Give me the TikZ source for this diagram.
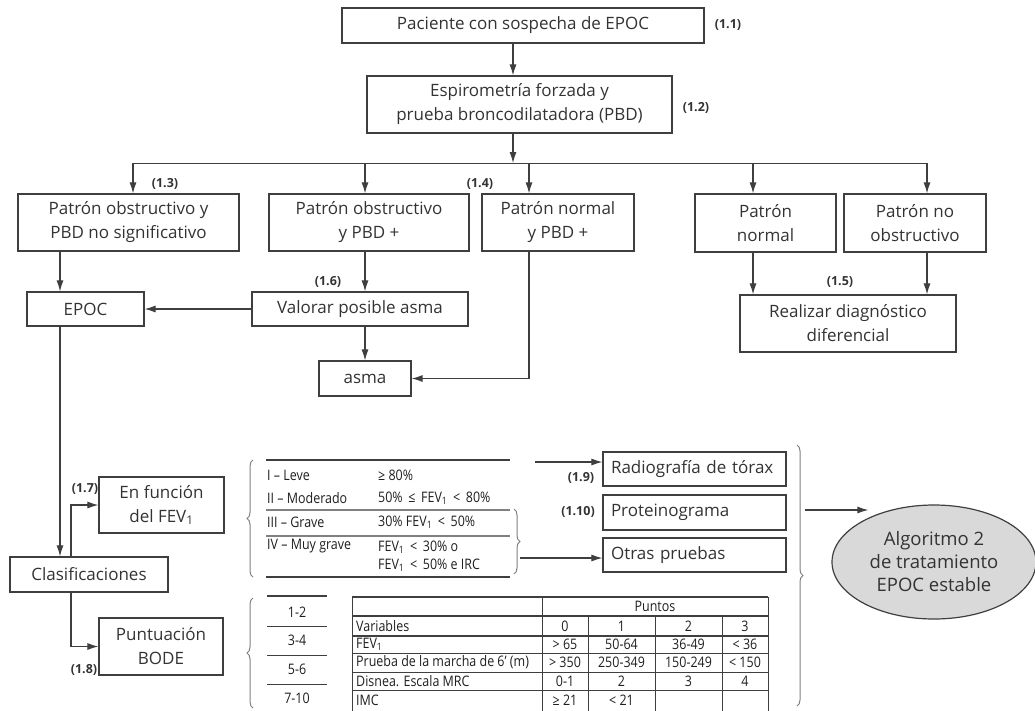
\documentclass[tikz,border=0pt]{standalone}
\usepackage{fontspec}
\setmainfont{Open Sans}
\newfontfamily\estrecha{Open Sans}[FakeStretch=0.86]
\usetikzlibrary{arrows.meta,shapes.geometric,decorations.pathreplacing}
\definecolor{linea}{HTML}{3F3F3F}
\definecolor{texto}{HTML}{333333}
\definecolor{oscuro}{HTML}{1F1F1F}
\definecolor{gris}{HTML}{D9D9D9}
\tikzset{
  caja/.style={draw=linea, line width=1.2pt, text=texto, align=center, inner sep=0pt,
    font=\fontsize{17}{24}\selectfont},
  prueba/.style={caja, align=left, inner xsep=8pt, text width=167pt},
  nota/.style={text=texto, inner sep=0pt, font=\fontsize{12.5}{14}\selectfont\bfseries},
  flecha/.style={draw=linea, line width=1.1pt, -{Latex[length=11pt,width=7pt]}},
  tabla/.style={text=oscuro, inner sep=0pt, font=\estrecha\fontsize{14.5}{16}\selectfont},
  llave/.style={draw=gray, line width=1pt, decorate, decoration={brace, amplitude=6pt}},
  raya/.style={draw=linea, line width=1pt}
}
\begin{document}
\begin{tikzpicture}[x=1pt, y=-1pt]
\useasboundingbox (0,0) rectangle (1035,710);

% cajas
\node[caja, minimum width=362pt, minimum height=35pt] (sospecha) at (523,25.5) {Paciente con sospecha de EPOC};
\node[caja, minimum width=305pt, minimum height=57pt] (espiro) at (519.5,104.5) {Espirometría forzada y\\prueba broncodilatadora (PBD)};
\node[caja, minimum width=221pt, minimum height=57pt] (obsns) at (128.5,222.5) {Patrón obstructivo y\\PBD no significativo};
\node[caja, minimum width=200pt, minimum height=57pt] (obsmas) at (369,222.5) {Patrón obstructivo\\y PBD +};
\node[caja, minimum width=152pt, minimum height=57pt] (normmas) at (558,222.5) {Patrón normal\\y PBD +};
\node[caja, minimum width=141pt, minimum height=58pt] (normal) at (765.5,223) {Patrón\\normal};
\node[caja, minimum width=142pt, minimum height=58pt] (noobs) at (915,223) {Patrón no\\obstructivo};
\node[caja, minimum width=216pt, minimum height=57pt] (difer) at (848,323.5) {Realizar diagnóstico\\diferencial};
\node[caja, minimum width=117pt, minimum height=34pt] (epoc) at (85.5,309) {EPOC};
\node[caja, minimum width=216pt, minimum height=34pt] (valorar) at (360,309) {Valorar posible asma};
\node[caja, minimum width=92pt, minimum height=35pt] (asma) at (365,378.5) {asma};
\node[caja, minimum width=158pt, minimum height=35pt] (clasif) at (89,574.5) {Clasificaciones};
\node[caja, minimum width=125pt, minimum height=56pt] (fev) at (161.5,505) {En función\\del FEV\textsubscript{1}};
\node[caja, minimum width=124pt, minimum height=57pt] (bode) at (161,646.5) {Puntuación\\BODE};
\node[prueba, minimum height=34pt] (radio) at (694.5,469) {Radiografía de tórax};
\node[prueba, minimum height=35pt] (protein) at (694.5,512.5) {Proteinograma};
\node[prueba, minimum height=34pt] (otras) at (694.5,555) {Otras pruebas};
\node[caja, ellipse, fill=gris, minimum width=204pt, minimum height=114pt,
  font=\fontsize{18.5}{23}\selectfont] (algoritmo) at (934,562) {Algoritmo 2\\de tratamiento\\EPOC estable};

% notas
\node[nota] (n11) at (728,25) {(1.1)};
\node[nota] (n12) at (696,108) {(1.2)};
\node[nota] (n13) at (165,184) {(1.3)};
\node[nota] (n14) at (480,184) {(1.4)};
\node[nota] (n15) at (840,282) {(1.5)};
\node[nota] (n16) at (328,282) {(1.6)};
\node[nota] (n17) at (85,489) {(1.7)};
\node[nota] (n18) at (84,670) {(1.8)};
\node[nota] (n19) at (581,478) {(1.9)};
\node[nota] (n110) at (578,512) {(1.10)};

% conexiones
\coordinate (rama) at (513,163);
\coordinate (b1) at (133,163);
\coordinate (b2) at (365,163);
\coordinate (b3) at (529,163);
\coordinate (b4) at (753,163);
\coordinate (b5) at (927,163);
\coordinate (t) at (60,0);
\coordinate (u) at (71,0);
\draw[flecha] (sospecha.south -| rama) -- (espiro.north -| rama);
\draw[flecha] (espiro.south -| rama) -- (rama);
\draw[raya] (b1) -- (b5);
\draw[flecha] (b1) -- (b1 |- obsns.north);
\draw[flecha] (b2) -- (b2 |- obsmas.north);
\draw[flecha] (b3) -- (b3 |- normmas.north);
\draw[flecha] (b4) -- (b4 |- normal.north);
\draw[flecha] (b5) -- (b5 |- noobs.north);
\draw[flecha] (b4 |- normal.south) -- (b4 |- difer.north);
\draw[flecha] (b5 |- noobs.south) -- (b5 |- difer.north);
\draw[flecha] (t |- obsns.south) -- (t |- epoc.north);
\draw[flecha] (b2 |- obsmas.south) -- (b2 |- valorar.north);
\draw[flecha] (valorar.west) -- (epoc.east);
\draw[flecha] (b2 |- valorar.south) -- (asma.north);
\draw[flecha] (b3 |- normmas.south) |- (asma.east);
\draw[flecha] (t |- epoc.south) -- (t |- clasif.north);
\draw[flecha] (u |- clasif.north) |- (fev.west);
\draw[flecha] (u |- clasif.south) |- (bode.west);

% gravedad segun FEV1
\draw[llave] (253,577) -- (253,460);
\draw[draw=linea, line width=2.2pt] (266,460) -- (510,460);
\draw[draw=gray, line width=1.2pt] (266,510) -- (510,510);
\draw[draw=gray, line width=1.2pt] (266,536) -- (510,536);
\draw[draw=linea, line width=2.2pt] (266,577) -- (510,577);
\node[tabla, anchor=west] (g1) at (267,475) {I – Leve};
\node[tabla, anchor=west] (g2) at (267,498) {II – Moderado};
\node[tabla, anchor=west] (g3) at (267,522) {III – Grave};
\node[tabla, anchor=west] (g4) at (267,546) {IV – Muy grave};
\node[tabla, anchor=west] (v1) at (378,475) {≥ 80\%};
\node[tabla, anchor=west] (v2) at (378,498) {50\% \,≤\, FEV\textsubscript{1} \,<\, 80\%};
\node[tabla, anchor=west] (v3) at (378,522) {30\% FEV\textsubscript{1} \,<\, 50\%};
\node[tabla, anchor=west, align=left, font=\estrecha\fontsize{14.5}{18}\selectfont] (v4) at (378,556) {FEV\textsubscript{1} \,<\, 30\% o\\FEV\textsubscript{1} \,<\, 50\% e IRC};
\draw[llave] (514,509) -- (514,574);
\coordinate (r1) at (535,462);
\coordinate (r2) at (520,558);
\draw[flecha] (r1) -- (r1 -| radio.west);
\draw[flecha] (r2) -- (r2 -| otras.west);
\draw[llave] (797,445) -- (797,706);
\coordinate (r3) at (805,510);
\draw[flecha] (r3) -- (r3 -| algoritmo.146);

% puntuacion BODE
\draw[llave] (253,708) -- (253,598);
\draw[draw=linea, line width=2.2pt] (267,596) -- (327,596);
\foreach \y in {626,655,684}
  \draw[raya] (267,\y) -- (327,\y);
\foreach \y/\p [count=\i] in {612/1-2,640/3-4,669/5-6,698/7-10}
  \node[tabla] (p\i) at (297,\y) {\p};

\draw[draw=linea, line width=1.8pt] (352,597) -- (768,597);
\draw[draw=linea, line width=1.8pt] (352,616) -- (768,616);
\draw[draw=linea, line width=1.8pt] (352,636) -- (768,636);
\foreach \y in {653,672,690}
  \draw[draw=linea, line width=0.9pt] (352,\y) -- (768,\y);
\foreach \x in {352,542,768}
  \draw[draw=linea, line width=1pt] (\x,597) -- (\x,712);
\foreach \x in {588,655,722}
  \draw[draw=linea, line width=1pt] (\x,616) -- (\x,712);
\node[tabla] (puntos) at (655,606) {Puntos};
\node[tabla, anchor=west] (var) at (356,626) {Variables};
\foreach \x/\c [count=\i] in {565/0,621.5/1,688.5/2,745/3}
  \node[tabla] (c\i) at (\x,626) {\c};
\foreach \y/\v/\a/\b/\c/\d [count=\i] in {
    644/FEV\textsubscript{1}/> 65/50-64/36-49/< 36,
    662/Prueba de la marcha de 6’ (m)/> 350/250-349/150-249/< 150,
    681/Disnea. Escala MRC/0-1/2/3/4,
    700/IMC/≥ 21/< 21//}{
  \node[tabla, anchor=west] (f\i) at (356,\y) {\v};
  \node[tabla] (f\i a) at (565,\y) {\a};
  \node[tabla] (f\i b) at (621.5,\y) {\b};
  \node[tabla] (f\i c) at (688.5,\y) {\c};
  \node[tabla] (f\i d) at (745,\y) {\d};
}
\end{tikzpicture}
\end{document}
